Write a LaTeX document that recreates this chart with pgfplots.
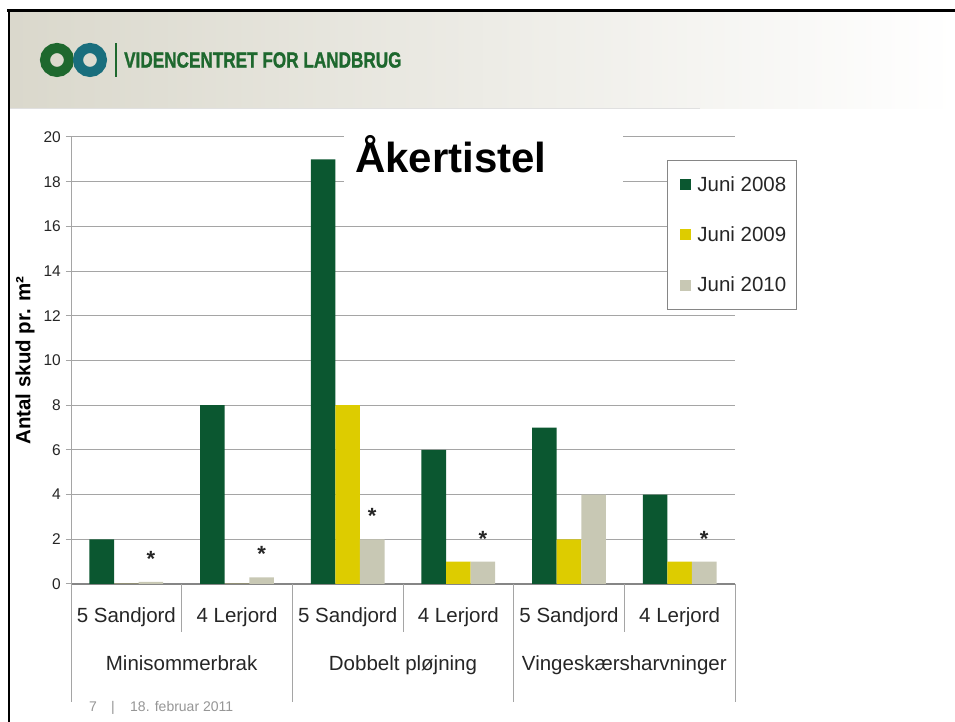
\documentclass[border=0pt]{standalone}
\usepackage{fontspec}
\setmainfont{Liberation Sans}
\newfontfamily\logofont[FakeBold=1.5]{Liberation Sans Bold}
\usepackage{pgfplots}
\pgfplotsset{compat=1.18}
\definecolor{cgreen}{RGB}{11,87,48}
\definecolor{cyellow}{RGB}{221,204,0}
\definecolor{cbeige}{RGB}{200,200,180}
\definecolor{gridgray}{RGB}{165,165,165}
\definecolor{axgray}{RGB}{134,134,134}
\definecolor{txt}{RGB}{38,38,38}
\definecolor{hdr}{RGB}{218,216,204}
\definecolor{logogreen}{RGB}{30,104,46}
\definecolor{logoteal}{RGB}{25,110,125}
\definecolor{footgray}{RGB}{150,150,150}
\begin{document}
\begin{tikzpicture}[x=1bp,y=1bp]
\path[use as bounding box, fill=white] (0,0) rectangle (955,722);
% header band
\shade[left color=hdr, right color=white] (10,613) rectangle (955,711);
\draw[black!12, line width=1bp] (10,613) -- (700,613);
\draw[black, line width=2.5bp] (7,711.5) -- (955,711.5);
\draw[black, line width=2.5bp] (9,0) -- (9,712.7);
% logo
\draw[logogreen, line width=10bp] (57,662) circle (12);
\draw[logoteal, line width=10bp] (90,662) circle (12);
\draw[logogreen, line width=2bp] (116,645) -- (116,679);
\node[anchor=west, inner sep=0, xscale=0.78, text=logogreen, font=\fontsize{22bp}{24bp}\logofont] at (124,662) {VIDENCENTRET FOR LANDBRUG};

\begin{axis}[
  at={(71bp,138bp)}, anchor=south west,
  scale only axis, width=664bp, height=447bp,
  xmin=-0.5, xmax=5.5, ymin=0, ymax=20,
  ybar=0pt, bar width=24.6bp,
  axis x line=bottom, axis y line=left,
  axis line style={-},
  x axis line style={draw=axgray, line width=1.2bp},
  y axis line style={draw=gridgray, line width=1bp},
  ytick={0,2,...,20},
  ymajorgrids, grid style={draw=gridgray, line width=1bp},
  tick align=outside, major tick length=5bp,
  ytick style={draw=gridgray, line width=1bp},
  xtick={0,...,5},
  xticklabels={5 Sandjord,4 Lerjord,5 Sandjord,4 Lerjord,5 Sandjord,4 Lerjord},
  xtick style={draw=none},
  xticklabel style={anchor=base, inner sep=0pt, yshift=-34bp, text=txt, font=\fontsize{20.5bp}{24bp}\selectfont},
  extra x ticks={0.5,2.5,4.5},
  extra x tick labels={Minisommerbrak,Dobbelt pløjning,Vingeskærsharvninger},
  extra x tick style={grid=none, xticklabel style={yshift=-48bp}},
  yticklabel style={anchor=east, inner sep=0pt, xshift=-5bp, text=txt, font=\fontsize{15.5bp}{17bp}\selectfont},
  /pgf/number format/assume math mode=true,
  ylabel={Antal skud pr. m²},
  ylabel style={at={(axis description cs:-0.069,0.5)}, anchor=center, rotate=0, font=\fontsize{20.5bp}{24bp}\selectfont\bfseries, text=black},
  legend style={at={(0.8976,0.9485)}, anchor=north west, draw=axgray, line width=0.8bp, fill=white,
    font=\fontsize{20.5bp}{24bp}\selectfont, text=txt, inner xsep=8bp, inner ysep=14bp, row sep=30bp,
    nodes={inner sep=2bp}, /tikz/every odd column/.append style={column sep=4bp}},
  legend cell align=left,
  legend image code/.code={\path (0bp,0bp); \fill[#1,draw=none] (5bp,-5.5bp) rectangle (16bp,5.5bp);},
  clip=false,
]
\addplot[fill=cgreen, draw=none] coordinates {(0,2) (1,8) (2,19) (3,6) (4,7) (5,4)};
\addplot[fill=cyellow, draw=none] coordinates {(0,0) (1,0) (2,8) (3,1) (4,2) (5,1)};
\addplot[fill=cbeige, draw=none, point meta=explicit symbolic, nodes near coords,
  nodes near coords style={anchor=center, yshift=23bp, font=\fontsize{22bp}{22bp}\selectfont\bfseries, text=black!85}]
  coordinates {(0,0.1) [*] (1,0.3) [*] (2,2) [*] (3,1) [*] (4,4) [] (5,1) [*]};
\legend{Juni 2008,Juni 2009,Juni 2010}
\draw[gridgray, line width=1bp] (axis cs:-0.5,0) -- ++(0bp,-118bp);
\draw[gridgray, line width=1bp] (axis cs:1.5,0) -- ++(0bp,-118bp);
\draw[gridgray, line width=1bp] (axis cs:3.5,0) -- ++(0bp,-118bp);
\draw[gridgray, line width=1bp] (axis cs:5.5,0) -- ++(0bp,-118bp);
\draw[gridgray, line width=1bp] (axis cs:0.5,0) -- ++(0bp,-48bp);
\draw[gridgray, line width=1bp] (axis cs:2.5,0) -- ++(0bp,-48bp);
\draw[gridgray, line width=1bp] (axis cs:4.5,0) -- ++(0bp,-48bp);
\end{axis}
% chart title
\fill[white] (344,527) rectangle (623,597);
\node[anchor=base west, inner sep=0, font=\fontsize{42bp}{48bp}\selectfont\bfseries] at (355,549) {Åkertistel};
% footer
\node[anchor=base west, inner sep=0, text=footgray, font=\fontsize{14bp}{16bp}\selectfont] at (89,10.5) {7};
\node[anchor=base west, inner sep=0, text=footgray, font=\fontsize{14bp}{16bp}\selectfont] at (111,10.5) {|};
\node[anchor=base west, inner sep=0, text=footgray, font=\fontsize{14bp}{16bp}\selectfont] at (130,10.5) {18. februar 2011};
\end{tikzpicture}
\end{document}
